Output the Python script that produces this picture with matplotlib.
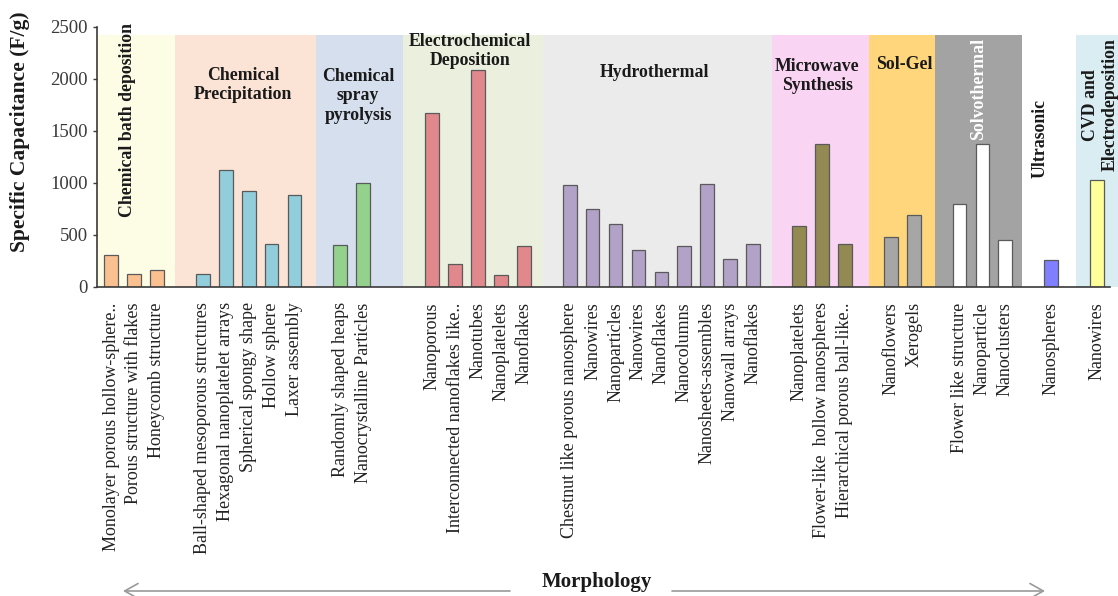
import matplotlib
matplotlib.use("Agg")
import matplotlib.pyplot as plt

# ---------------------------------------------------------------------------
# Data: one list per synthesis method
# ---------------------------------------------------------------------------
methods = ["Chemical bath deposition", "Chemical\nPrecipitation",
           "Chemical\nspray\npyrolysis", "Electrochemical\nDeposition",
           "Hydrothermal", "Microwave\nSynthesis", "Sol-Gel",
           "Solvothermal", "Ultrasonic", "CVD and\nElectrodeposition"]

morph_cbd = ["Monolayer porous hollow-sphere..", "Porous structure with flakes",
             "Honeycomb structure"]
cap_cbd = [305, 128, 167]

morph_cp = ["Ball-shaped mesoporous structures", "Hexagonal nanoplatelet arrays",
            "Spherical spongy shape", "Hollow sphere", "Laxer assembly"]
cap_cp = [128, 1122, 923, 417, 888]

morph_csp = ["Randomly shaped heaps", "Nanocrystalline Particles"]
cap_csp = [400, 1003]

morph_ecd = ["Nanoporous", "Interconnected nanoflakes like..", "Nanotubes",
             "Nanoplatelets", "Nanoflakes"]
cap_ecd = [1673, 218, 2090, 112, 391]

morph_ht = ["Chestnut like porous nanosphere", "Nanowires", "Nanoparticles",
            "Nanowires", "Nanoflakes", "Nanocolumns", "Nanosheets-assembles",
            "Nanowall arrays", "Nanoflakes"]
cap_ht = [978, 753, 609, 353, 141, 391, 990, 272, 417]

morph_mw = ["Nanoplatelets", "Flower-like  hollow nanospheres",
            "Hierarchical porous ball-like.."]
cap_mw = [587, 1372, 417]

morph_sg = ["Nanoflowers", "Xerogels"]
cap_sg = [481, 689]

morph_st = ["Flower like structure", "Nanoparticle", "Nanoclusters"]
cap_st = [798, 1372, 449]

morph_us = ["Nanospheres"]
cap_us = [256]

morph_cvd = ["Nanowires"]
cap_cvd = [1026]

groups = [morph_cbd, morph_cp, morph_csp, morph_ecd, morph_ht,
          morph_mw, morph_sg, morph_st, morph_us, morph_cvd]
values = [cap_cbd, cap_cp, cap_csp, cap_ecd, cap_ht,
          cap_mw, cap_sg, cap_st, cap_us, cap_cvd]

# ---------------------------------------------------------------------------
# Styling
# ---------------------------------------------------------------------------
gap_before = [0, 1, 1, 2, 1, 1, 1, 1, 1, 1]       # empty slots before each group
bar_colors = ["#FAC090", "#92CDDC", "#93D18C", "#E0888C", "#B3A2C7",
              "#938953", "#A6A6A6", "#FFFFFF", "#7F7FFF", "#FFFF99"]
band_colors = ["#FDFDE6", "#FBE4D5", "#D5DFEE", "#EBF0DE", "#EBEBEB",
               "#FAD4F3", "#FFD67C", "#A3A3A3", None, "#DAEDF3"]
# band spans (in slot units) and label anchors
band_spans = [(-0.61, 2.79), (2.79, 8.94), (8.94, 12.73), (12.73, 18.84),
              (18.84, 28.83), (28.83, 33.06), (33.06, 35.94), (35.94, 39.73),
              None, (42.07, 44.5)]
label_pos = [(0.70, 1606), (5.76, 1942), (10.77, 1837), (15.66, 2269),
             (23.72, 2067), (30.79, 2029), (34.58, 2135), (37.81, 1904),
             (40.51, 1423), (43.13, 1750)]
label_rot = [90, 0, 0, 0, 0, 0, 0, 90, 90, 90]
label_col = ["#1a1a1a"] * 7 + ["white", "#1a1a1a", "#1a1a1a"]

serif = ["Liberation Serif", "DejaVu Serif"]
plt.rcParams["font.family"] = serif

fig = plt.figure(figsize=(11.18, 5.96), dpi=100)
ax = fig.add_axes([0.0868, 0.5185, 0.9062, 0.4362])

positions, labels = [], []
slot = 0
for gi, (names, caps) in enumerate(zip(groups, values)):
    slot += gap_before[gi]
    xs = list(range(slot, slot + len(names)))
    slot += len(names)
    ax.bar(xs, caps, width=0.6, color=bar_colors[gi], edgecolor="#5a5a5a",
           linewidth=0.9, zorder=3)
    positions += xs
    labels += names

    if band_spans[gi] is not None:
        x0, x1 = band_spans[gi]
        ax.fill_between([x0, x1], 0, 2420, color=band_colors[gi], lw=0,
                        zorder=1, clip_on=False)
    lx, ly = label_pos[gi]
    ax.text(lx, ly, methods[gi], rotation=label_rot[gi], ha="center",
            va="center", fontsize=12.8, fontweight="bold",
            color=label_col[gi], linespacing=1.2, zorder=4)

ax.set_xlim(-0.61, 43.57)
ax.set_ylim(0, 2500)
ax.set_yticks([0, 500, 1000, 1500, 2000, 2500])
ax.set_xticks(positions)
ax.set_xticklabels(labels, rotation=90, fontsize=13, color="#222222")
ax.tick_params(axis="x", length=0, pad=11)
ax.tick_params(axis="y", length=3, direction="out", labelsize=13.5,
               colors="#3a3a3a", width=1)
for s in ["top", "right"]:
    ax.spines[s].set_visible(False)
for s in ["left", "bottom"]:
    ax.spines[s].set_color("#3a3a3a")
    ax.spines[s].set_linewidth(1.2)
    ax.spines[s].set_zorder(5)

fig.text(20 / 1118, 1 - 132 / 596, "Specific Capacitance (F/g)", rotation=90,
         ha="center", va="center", fontsize=15.5, fontweight="bold",
         color="#1a1a1a")
fig.text(597 / 1118, 1 - 582 / 596, "Morphology", ha="center", va="center",
         fontsize=15, fontweight="bold", color="#1a1a1a")

# arrows either side of the x-axis title
arrow_kw = dict(arrowstyle="->,head_length=0.8,head_width=0.45",
                mutation_scale=12, color="#9a9a9a", lw=1.2,
                shrinkA=0, shrinkB=0)
fig.add_artist(matplotlib.patches.FancyArrowPatch(
    (510 / 1118, 1 - 591 / 596), (123 / 1118, 1 - 591 / 596),
    transform=fig.transFigure, **arrow_kw))
fig.add_artist(matplotlib.patches.FancyArrowPatch(
    (672 / 1118, 1 - 591 / 596), (1045 / 1118, 1 - 591 / 596),
    transform=fig.transFigure, **arrow_kw))

fig.savefig("out.png", dpi=100)
